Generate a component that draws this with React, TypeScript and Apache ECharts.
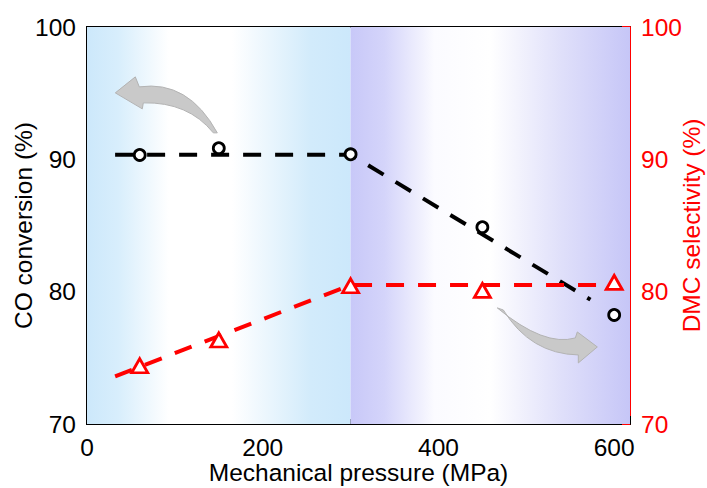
import React, { useEffect, useRef } from "react";
import * as echarts from "echarts";

// ---- data ----
const pressure = [60, 150, 300, 450, 600];
const coConversion = [90.33, 90.84, 90.38, 84.87, 78.24];
const dmcSelectivity = [74.4, 76.35, 80.45, 80.1, 80.7];
// dashed trend lines (x, y)
const coTrendX = [32, 300, 573];
const coTrendY = [90.35, 90.35, 79.4];
const dmcTrendX = [32, 300, 600];
const dmcTrendY = [73.6, 80.5, 80.5];
// background regions (MPa)
const regionBounds = [0, 300, 618];
const xTicks = [0, 200, 400, 600];
const yTicks = [70, 80, 90, 100];
// arrow anchors in data coordinates [x, y]
const arrowLeftAnchor = [148.3, 92.0];
const arrowRightAnchor = [467, 78.77];

echarts.graphic.registerShape(
  "arrowLeft",
  echarts.graphic.extendPath(
    "M 0 0 Q -29 -53 -78 -46 L -82 -56 L -102 -40 L -75 -24 L -74 -30 Q -29 -31 -4 0 Z",
    {}
  )
);
echarts.graphic.registerShape(
  "arrowRight",
  echarts.graphic.extendPath(
    "M 0 0 Q 47 39 78 30 L 80 24 L 100 39 L 81 55 L 81 47 Q 33 46 6 2 Z",
    {}
  )
);

const FONT = "'Liberation Sans', Arial, sans-serif";
const FS = 24.5;
const LH = 19;

export default function App() {
  const ref = useRef<HTMLDivElement>(null);
  useEffect(() => {
    if (!ref.current) return;
    const chart = echarts.init(ref.current, undefined, { renderer: "svg" });
    const blueGrad = new echarts.graphic.LinearGradient(0, 0, 1, 0, [
      { offset: 0, color: "#cce8fb" },
      { offset: 0.12, color: "#d8eefc" },
      { offset: 0.31, color: "#ffffff" },
      { offset: 0.55, color: "#ffffff" },
      { offset: 0.85, color: "#d2ebfb" },
      { offset: 1, color: "#cce8fb" },
    ]);
    const violetGrad = new echarts.graphic.LinearGradient(0, 0, 1, 0, [
      { offset: 0, color: "#c8c8f8" },
      { offset: 0.12, color: "#d4d4fa" },
      { offset: 0.3, color: "#fbfbff" },
      { offset: 0.5, color: "#ffffff" },
      { offset: 0.75, color: "#e0e0fa" },
      { offset: 1, color: "#c6c6f7" },
    ]);
    const axisCommon = (color: string) => ({
      axisLine: { show: true, lineStyle: { color, width: 2 } },
      axisTick: { show: true, inside: true, length: 8, lineStyle: { color, width: 2 } },
      minorTick: { show: true, splitNumber: 2, length: 5, lineStyle: { color, width: 2 } },
      splitLine: { show: false },
      nameTextStyle: { color, fontSize: FS, fontFamily: FONT, lineHeight: LH },
      nameMoveOverlap: false,
    });
    chart.setOption({
      animation: false,
      grid: {
        left: 87,
        right: 77,
        top: 27,
        bottom: 64,
        outerBoundsMode: "none",
        containLabel: false,
        show: true,
        borderColor: "#000",
        borderWidth: 2,
        backgroundColor: "transparent",
      },
      xAxis: {
        type: "value",
        min: xTicks[0],
        max: regionBounds[2],
        interval: xTicks[1] - xTicks[0],
        ...axisCommon("#000"),
        axisLabel: { color: "#000", fontSize: FS, fontFamily: FONT, lineHeight: LH, margin: 14, showMaxLabel: false },
        name: "Mechanical pressure (MPa)",
        nameLocation: "middle",
        nameGap: 39,
      },
      yAxis: [
        {
          type: "value",
          min: yTicks[0],
          max: yTicks[3],
          interval: 10,
          position: "left",
          ...axisCommon("#000"),
          axisLabel: { color: "#000", fontSize: FS, fontFamily: FONT, lineHeight: LH, margin: 11 },
          name: "CO conversion (%)",
          nameLocation: "middle",
          nameRotate: 90,
          nameGap: 54,
        },
        {
          type: "value",
          min: yTicks[0],
          max: yTicks[3],
          interval: 10,
          position: "right",
          ...axisCommon("#ff0000"),
          axisLabel: { color: "#ff0000", fontSize: FS, fontFamily: FONT, lineHeight: LH, margin: 11 },
          name: "DMC selectivity (%)",
          nameLocation: "middle",
          nameRotate: 90,
          nameGap: 52,
        },
      ],
      series: [
        {
          type: "line",
          name: "bg",
          data: [],
          z: 1,
          markArea: {
            silent: true,
            z: 1,
            data: [
              [{ xAxis: regionBounds[0], itemStyle: { color: blueGrad } }, { xAxis: regionBounds[1] }],
              [{ xAxis: regionBounds[1], itemStyle: { color: violetGrad } }, { xAxis: regionBounds[2] }],
            ],
          },
        },
        {
          type: "line",
          data: coTrendX.map((x, i) => [x, coTrendY[i]]),
          showSymbol: false,
          symbol: "none",
          z: 5,
          lineStyle: { color: "#000", width: 4, type: [18, 14] },
        },
        {
          type: "line",
          yAxisIndex: 1,
          data: dmcTrendX.map((x, i) => [x, dmcTrendY[i]]),
          showSymbol: false,
          symbol: "none",
          z: 5,
          lineStyle: { color: "#ff0000", width: 4, type: [18, 14] },
        },
        {
          type: "scatter",
          data: pressure.map((x, i) => [x, coConversion[i]]),
          symbol: "circle",
          symbolSize: 11,
          z: 6,
          itemStyle: { color: "#fff", borderColor: "#000", borderWidth: 2.8, opacity: 1 },
        },
        {
          type: "scatter",
          yAxisIndex: 1,
          data: pressure.map((x, i) => [x, dmcSelectivity[i]]),
          symbol: "triangle",
          symbolSize: [16, 14],
          z: 6,
          itemStyle: { color: "#fff", borderColor: "#ff0000", borderWidth: 2.8, opacity: 1 },
        },
      ],
    });
    const p1 = chart.convertToPixel({ xAxisIndex: 0, yAxisIndex: 0 }, arrowLeftAnchor) as number[];
    const p2 = chart.convertToPixel({ xAxisIndex: 0, yAxisIndex: 0 }, arrowRightAnchor) as number[];
    chart.setOption({
      graphic: [
        {
          type: "arrowLeft",
          x: p1[0],
          y: p1[1],
          z: 3,
          style: { fill: "#c9c9c9", stroke: "#b3b3b3", lineWidth: 1 },
        },
        {
          type: "arrowRight",
          x: p2[0],
          y: p2[1],
          z: 3,
          style: { fill: "#c9c9c9", stroke: "#b3b3b3", lineWidth: 1 },
        },
      ],
    });
    return () => chart.dispose();
  }, []);
  return <div ref={ref} style={{ width: 707, height: 488, position: "absolute", left: 0, top: 0 }} />;
}
